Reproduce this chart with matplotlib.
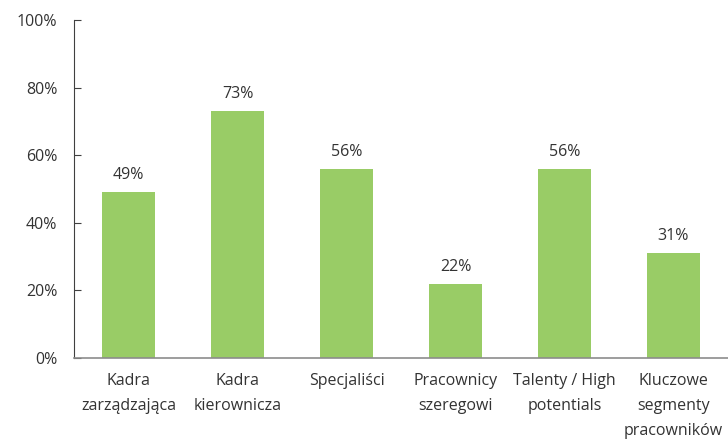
import matplotlib
matplotlib.use("Agg")
from matplotlib import pyplot as plt
from matplotlib.ticker import PercentFormatter

kategorie = ["Kadra\nzarządzająca", "Kadra\nkierownicza", "Specjaliści",
             "Pracownicy\nszeregowi", "Talenty / High\npotentials",
             "Kluczowe\nsegmenty\npracowników"]
wartosci = [49, 73, 56, 22, 56, 31]
ticki_y = [0, 20, 40, 60, 80, 100]

plt.rcParams["font.family"] = ["Open Sans", "DejaVu Sans"]
tekst = "#333333"
rozmiar = 11.5

fig = plt.figure(figsize=(7.28, 4.41), dpi=100)
ax = fig.add_axes([74 / 728, 83 / 441, 654 / 728, 338 / 441])

x = range(len(kategorie))
ax.bar(x, wartosci, width=0.48, color="#99cc66", zorder=2)

# etykiety wartości nad słupkami
for i, v in zip(x, wartosci):
        ax.text(i, v + 2.7, f"{v}%", ha="center", va="bottom", fontsize=rozmiar, color=tekst)

ax.set_xlim(-0.5, len(kategorie) - 0.5)
ax.set_ylim(0, 100)
ax.set_yticks(ticki_y)
ax.yaxis.set_major_formatter(PercentFormatter(decimals=0))
ax.set_xticks(list(x))
ax.set_xticklabels(kategorie, fontsize=rozmiar, color=tekst, linespacing=1.75, va="top")

ax.tick_params(axis="x", length=0, pad=11)
ax.tick_params(axis="y", direction="in", length=5, width=0.8, color="#404040",
               labelsize=rozmiar, labelcolor=tekst, pad=12)

for s in ["top", "right"]:
        ax.spines[s].set_visible(False)
ax.spines["left"].set_color("#404040")
ax.spines["left"].set_linewidth(0.8)
ax.spines["bottom"].set_color("#8c8c8c")
ax.spines["bottom"].set_linewidth(1.2)

fig.savefig("out.png", dpi=100)
